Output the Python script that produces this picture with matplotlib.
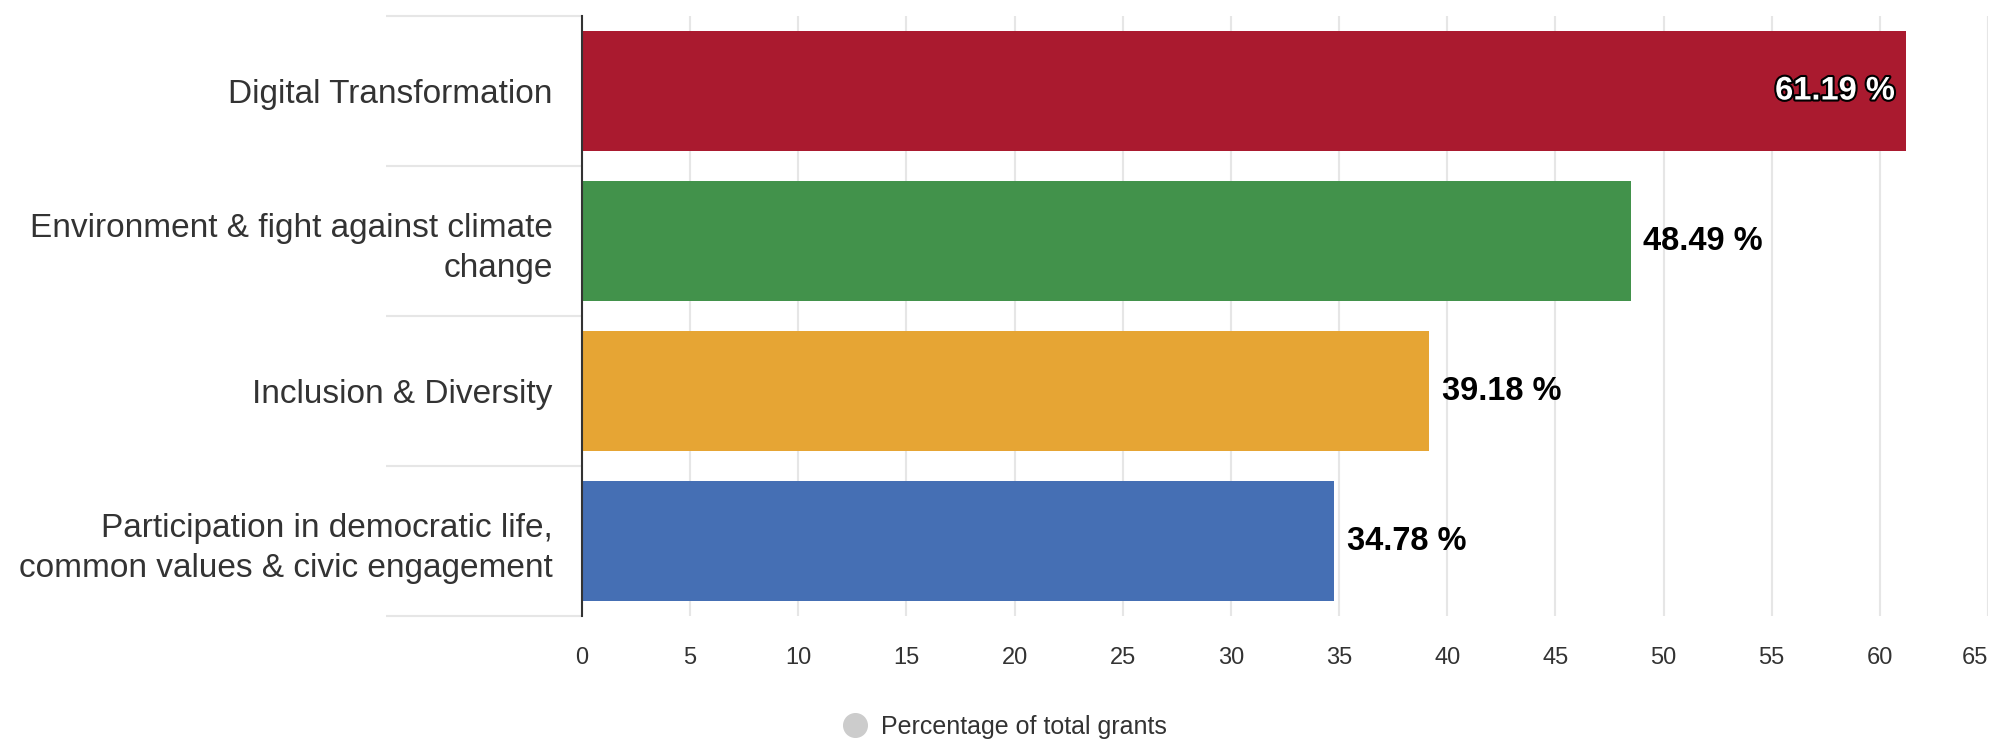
import matplotlib
matplotlib.use("Agg")
import matplotlib.pyplot as plt
import matplotlib.patheffects as pe
from matplotlib.lines import Line2D
from matplotlib.ticker import FixedLocator

categories = [
    "Digital Transformation",
    "Environment & fight against climate\nchange",
    "Inclusion & Diversity",
    "Participation in democratic life,\ncommon values & civic engagement",
]
values = [61.19, 48.49, 39.18, 34.78]
colors = ["#aa1a2f", "#42924b", "#e6a534", "#456fb4"]
series_name = "Percentage of total grants"
x_ticks = [0, 5, 10, 15, 20, 25, 30, 35, 40, 45, 50, 55, 60, 65]

plt.rcParams["font.family"] = ["Liberation Sans", "DejaVu Sans"]

fig = plt.figure(figsize=(20.16, 7.42), dpi=100)
ax = fig.add_axes([582 / 2016, 1 - 616 / 742, (1988 - 582) / 2016, 600 / 742])

pos = list(range(len(categories)))
bars = ax.barh(pos, values, height=0.8, color=colors, zorder=3)

ax.set_xlim(x_ticks[0], x_ticks[-1])
ax.set_ylim(len(categories) - 0.5, -0.5)
ax.set_xticks(x_ticks)
ax.grid(axis="x", color="#e6e6e6", linewidth=1.5, zorder=0)
ax.set_axisbelow(True)

for s in ["top", "right", "bottom"]:
    ax.spines[s].set_visible(False)
ax.spines["left"].set_color("#333333")
ax.spines["left"].set_linewidth(1.5)
ax.spines["left"].set_zorder(4)

ax.set_yticks(pos)
ax.set_yticklabels(categories, fontsize=24, color="#333333", linespacing=1.35)
ax.yaxis.set_minor_locator(FixedLocator([p - 0.5 for p in pos] + [len(pos) - 0.5]))
ax.tick_params(axis="y", which="major", length=0, pad=21)
ax.tick_params(axis="y", which="minor", length=141, width=1.5, color="#e6e6e6")
ax.tick_params(axis="x", length=0, pad=22, labelsize=17, labelcolor="#333333")
ax.get_xticklabels()[-1].set_horizontalalignment("right")

for i, (b, v) in enumerate(zip(bars, values)):
    label = f"{v:.2f} %"
    yc = b.get_y() + b.get_height() / 2
    if i == 0:
        ax.annotate(label, (v, yc), xytext=(-8, 0), textcoords="offset points",
                    ha="right", va="center", fontsize=23.5, fontweight="bold",
                    color="white", zorder=5,
                    path_effects=[pe.withStroke(linewidth=3, foreground="black")])
    else:
        ax.annotate(label, (v, yc), xytext=(9, 0), textcoords="offset points",
                    ha="left", va="center", fontsize=23.5, fontweight="bold",
                    color="black", zorder=5)

handle = Line2D([], [], marker="o", linestyle="none", markersize=17,
                markerfacecolor="#cccccc", markeredgecolor="#cccccc")
fig.legend([handle], [series_name], loc="center", bbox_to_anchor=(0.4985, 1 - 727 / 742),
           frameon=False, fontsize=18, labelcolor="#333333", handlelength=1.0,
           handletextpad=0.55, borderpad=0, borderaxespad=0)

fig.savefig("out.png", dpi=100)
